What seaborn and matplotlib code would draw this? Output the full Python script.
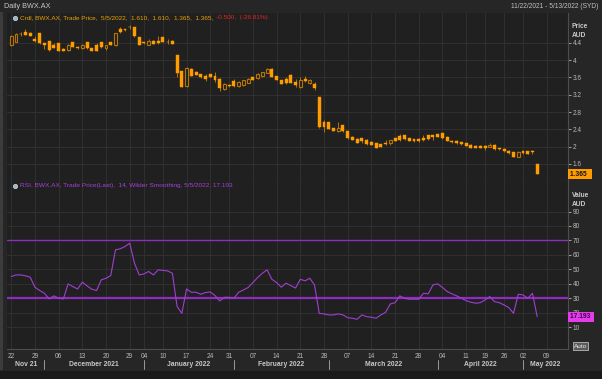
import matplotlib
matplotlib.use("Agg")
import matplotlib.pyplot as plt
import numpy as np
import pandas as pd
import seaborn as sns
from matplotlib.patches import Rectangle
from matplotlib.ticker import FormatStrFormatter

# ASX trading calendar for the window shown (11/22/2021 - 5/13/2022)
HOLIDAYS = ["2021-12-27", "2021-12-28", "2022-01-03", "2022-01-26",
            "2022-04-15", "2022-04-18", "2022-04-25"]
trade_days = pd.bdate_range("2021-11-22", "2022-05-13", freq="C", holidays=HOLIDAYS)

month_labels = ["Nov 21", "December 2021", "January 2022", "February 2022",
                "March 2022", "April 2022", "May 2022"]

# daily candles, BWX.AX
opens = [4.35, 4.43, 4.61, 4.65, 4.62, 4.50, 4.62, 4.39, 4.44, 4.35,
         4.39, 4.26, 4.24, 4.42, 4.31, 4.28, 4.42, 4.28, 4.35, 4.42,
         4.28, 4.42, 4.35, 4.72, 4.71, 4.77, 4.76, 4.53, 4.41, 4.35,
         4.45, 4.45, 4.53, 4.43, 4.45, 4.12, 3.74, 3.41, 3.80, 3.73,
         3.68, 3.63, 3.68, 3.63, 3.57, 3.33, 3.43, 3.52, 3.40, 3.42,
         3.48, 3.61, 3.58, 3.63, 3.71, 3.80, 3.63, 3.53, 3.57, 3.66,
         3.50, 3.39, 3.56, 3.46, 3.45, 3.14, 2.58, 2.56, 2.42, 2.35,
         2.49, 2.35, 2.23, 2.18, 2.19, 2.16, 2.10, 2.08, 2.05, 2.09,
         2.08, 2.19, 2.25, 2.27, 2.19, 2.17, 2.18, 2.21, 2.27, 2.27,
         2.29, 2.31, 2.23, 2.14, 2.14, 2.10, 2.08, 2.04, 2.02, 2.02,
         2.02, 2.00, 2.04, 1.96, 1.95, 1.91, 1.87, 1.77, 1.90, 1.89,
         1.89, 1.61]
highs = [4.57, 4.62, 4.65, 4.72, 4.64, 4.56, 4.63, 4.40, 4.45, 4.40,
         4.40, 4.27, 4.37, 4.43, 4.32, 4.37, 4.43, 4.29, 4.40, 4.43,
         4.36, 4.43, 4.63, 4.76, 4.72, 4.81, 4.77, 4.54, 4.42, 4.50,
         4.46, 4.56, 4.54, 4.48, 4.46, 4.13, 3.76, 3.85, 3.81, 3.76,
         3.69, 3.68, 3.69, 3.72, 3.58, 3.46, 3.44, 3.56, 3.51, 3.54,
         3.58, 3.62, 3.70, 3.73, 3.81, 3.81, 3.64, 3.54, 3.61, 3.67,
         3.56, 3.60, 3.63, 3.57, 3.50, 3.15, 2.62, 2.58, 2.43, 2.56,
         2.50, 2.36, 2.25, 2.19, 2.21, 2.17, 2.14, 2.09, 2.06, 2.15,
         2.16, 2.20, 2.29, 2.28, 2.20, 2.18, 2.19, 2.27, 2.28, 2.28,
         2.30, 2.32, 2.24, 2.15, 2.15, 2.11, 2.09, 2.05, 2.03, 2.03,
         2.03, 2.08, 2.05, 1.97, 1.96, 1.92, 1.88, 1.89, 1.91, 1.90,
         1.92, 1.61]
lows = [4.33, 4.42, 4.56, 4.57, 4.55, 4.43, 4.38, 4.25, 4.20, 4.27,
        4.21, 4.21, 4.20, 4.30, 4.26, 4.26, 4.26, 4.20, 4.20, 4.29,
        4.24, 4.34, 4.33, 4.62, 4.68, 4.72, 4.54, 4.34, 4.38, 4.34,
        4.37, 4.38, 4.42, 4.38, 4.37, 3.62, 3.38, 3.39, 3.63, 3.65,
        3.59, 3.52, 3.61, 3.50, 3.28, 3.32, 3.39, 3.39, 3.39, 3.41,
        3.47, 3.53, 3.57, 3.62, 3.70, 3.60, 3.54, 3.44, 3.45, 3.47,
        3.38, 3.36, 3.50, 3.45, 3.32, 2.44, 2.33, 2.40, 2.36, 2.34,
        2.34, 2.18, 2.15, 2.08, 2.08, 2.04, 2.03, 1.97, 1.99, 2.04,
        2.04, 2.12, 2.12, 2.16, 2.12, 2.11, 2.10, 2.13, 2.16, 2.15,
        2.22, 2.18, 2.12, 2.09, 2.07, 2.04, 2.01, 1.97, 1.97, 1.97,
        1.92, 1.99, 1.93, 1.93, 1.87, 1.84, 1.76, 1.76, 1.84, 1.82,
        1.82, 1.365]
closes = [4.55, 4.60, 4.60, 4.58, 4.56, 4.44, 4.39, 4.35, 4.24, 4.28,
          4.22, 4.22, 4.35, 4.31, 4.27, 4.35, 4.27, 4.21, 4.22, 4.31,
          4.34, 4.35, 4.62, 4.64, 4.69, 4.76, 4.55, 4.35, 4.39, 4.45,
          4.38, 4.39, 4.43, 4.42, 4.38, 3.70, 3.39, 3.81, 3.64, 3.66,
          3.60, 3.56, 3.62, 3.54, 3.35, 3.45, 3.40, 3.40, 3.50, 3.53,
          3.57, 3.54, 3.69, 3.72, 3.80, 3.61, 3.55, 3.45, 3.48, 3.48,
          3.42, 3.54, 3.52, 3.54, 3.36, 2.46, 2.45, 2.41, 2.37, 2.42,
          2.35, 2.19, 2.16, 2.09, 2.12, 2.05, 2.04, 1.98, 2.00, 2.05,
          2.15, 2.13, 2.16, 2.17, 2.13, 2.12, 2.13, 2.16, 2.17, 2.23,
          2.23, 2.19, 2.13, 2.10, 2.08, 2.05, 2.02, 1.98, 1.98, 1.98,
          1.96, 2.04, 1.94, 1.94, 1.91, 1.85, 1.77, 1.88, 1.85, 1.83,
          1.88, 1.365]

# RSI(14), Wilder smoothing
rsi = [45.0, 46.1, 46.1, 45.5, 44.5, 37.6, 35.3, 33.4, 29.5, 31.6,
       30.0, 29.5, 39.9, 38.0, 36.4, 41.1, 38.5, 36.2, 35.3, 42.7,
       43.8, 45.7, 63.5, 64.2, 65.8, 68.1, 54.3, 46.1, 46.8, 48.5,
       46.1, 49.6, 49.2, 48.9, 47.3, 24.2, 19.5, 36.4, 34.1, 34.1,
       32.7, 33.9, 34.3, 31.8, 28.1, 30.6, 30.6, 30.0, 34.1, 35.7,
       37.4, 40.8, 44.3, 47.3, 49.6, 43.1, 40.8, 37.6, 40.4, 38.7,
       37.0, 43.1, 42.0, 43.8, 39.2, 19.5, 19.1, 18.4, 18.4, 19.1,
       18.4, 16.5, 16.1, 15.4, 18.4, 17.2, 16.8, 16.1, 18.4, 20.2,
       26.0, 26.9, 31.6, 29.9, 29.3, 29.3, 29.3, 33.4, 33.0, 39.2,
       39.9, 37.4, 34.6, 33.0, 31.6, 29.9, 28.3, 27.2, 26.5, 26.9,
       28.8, 31.1, 27.6, 26.9, 25.3, 23.5, 19.5, 32.7, 32.3, 29.9,
       33.4, 17.193]

FIG_BG = "#262626"
AX_BG = "#202020"
GRID = "#2f2f2f"
TXT = "#b8b8b8"
ORANGE = "#ff9c00"
HOLLOW = "#b87400"
WICK = "#b87400"
PURPLE = "#a13ed2"

sns.set_theme(style="dark", rc={
    "axes.facecolor": AX_BG,
    "figure.facecolor": FIG_BG,
    "axes.edgecolor": "#555555",
    "grid.color": GRID,
    "grid.linewidth": 0.8,
    "xtick.color": TXT,
    "ytick.color": TXT,
})
plt.rcParams["font.family"] = ["Liberation Sans", "DejaVu Sans"]

W, H = 602, 379
fig = plt.figure(figsize=(W / 100, H / 100), dpi=100)


def px_axes(x0, y0, x1, y1):
    return fig.add_axes([x0 / W, 1 - y1 / H, (x1 - x0) / W, (y1 - y0) / H])


ax1 = px_axes(7, 13, 568, 180.5)
ax2 = px_axes(7, 180.5, 568, 349)

n_days = len(trade_days)
xlim = (-0.9, n_days - 0.5)
idx = np.arange(len(closes))
o, h, l, c = map(np.asarray, (opens, highs, lows, closes))
up = c > o

# week starts -> x ticks, month starts -> separators
week_start = [i for i in range(n_days)
              if i == 0 or trade_days[i].isocalendar()[1] != trade_days[i - 1].isocalendar()[1]]
month_start = [i for i in range(1, n_days) if trade_days[i].month != trade_days[i - 1].month]

# ---- price panel ----
ax1.vlines(idx, l, h, color=WICK, lw=0.7, zorder=2)
ax1.bar(idx[~up], (o - c)[~up], bottom=c[~up], width=0.62,
        color=ORANGE, edgecolor=ORANGE, lw=0.3, zorder=3)
ax1.bar(idx[up], (c - o)[up], bottom=o[up], width=0.62,
        facecolor=AX_BG, edgecolor=HOLLOW, lw=0.8, zorder=3)
ax1.set_ylim(1.217, 5.09)
ax1.set_yticks(np.arange(1.6, 4.5, 0.4))
ax1.yaxis.set_major_formatter(FormatStrFormatter("%g"))

# ---- RSI panel ----
ax2.axhline(70, color="#8e2cbf", lw=1.0, zorder=2)
ax2.axhline(30, color="#8e2cbf", lw=1.6, zorder=2)
sns.lineplot(x=idx, y=rsi, ax=ax2, color=PURPLE, lw=0.8, zorder=3)
ax2.set_ylim(-5.2, 111.5)
ax2.set_yticks(range(10, 91, 10))

for ax in (ax1, ax2):
    ax.set_xlim(*xlim)
    ax.set_xticks(week_start)
    ax.grid(True, axis="both")
    ax.yaxis.tick_right()
    ax.tick_params(axis="y", length=2, width=0.6, pad=1.5, labelsize=4.7,
                   colors=TXT, right=True)
    ax.set_xlabel("")
    ax.set_ylabel("")
    for side in ("left", "top"):
        ax.spines[side].set_visible(False)
    for side in ("right", "bottom"):
        ax.spines[side].set_color("#4d4d4d")
        ax.spines[side].set_linewidth(0.8)

ax1.tick_params(axis="x", length=0, labelbottom=False)
ax2.set_xticklabels([trade_days[i].strftime("%d") for i in week_start])
ax2.tick_params(axis="x", length=2, width=0.6, pad=1, labelsize=4.7, colors=TXT)

# month band under the day numbers
xt = ax2.get_xaxis_transform()
bounds = [xlim[0]] + month_start + [xlim[1]]
for k, name in enumerate(month_labels):
    ax2.text((bounds[k] + bounds[k + 1]) / 2, -0.094, name, transform=xt,
             ha="center", va="center", fontsize=4.9, fontweight="bold", color="#c8c8c8")
for m in month_start:
    ax2.plot([m, m], [-0.065, -0.118], transform=xt, color="#9a9a9a",
             lw=0.7, clip_on=False)

# ---- figure chrome ----
fig.patches.append(Rectangle((0, 1 - 370 / H), 3 / W, 358 / H, transform=fig.transFigure,
                             facecolor="#3c3c3c", edgecolor="none"))
fig.patches.append(Rectangle((0, 0), 1, 8 / H, transform=fig.transFigure,
                             facecolor="#1a1a1a", edgecolor="none"))
fig.text(4 / W, 1 - 6 / H, "Daily BWX.AX", fontsize=5.2, color="#c8c8c8", va="center")
fig.text(598 / W, 1 - 6 / H, "11/22/2021 - 5/13/2022 (SYD)", fontsize=4.8,
         color="#c0c0c0", va="center", ha="right")
fig.text(572 / W, 1 - 27 / H, "Price", fontsize=4.8, fontweight="bold", color="#c8c8c8", va="center")
fig.text(572 / W, 1 - 35.5 / H, "AUD", fontsize=4.8, fontweight="bold", color="#c8c8c8", va="center")
fig.text(572 / W, 1 - 195 / H, "Value", fontsize=4.8, fontweight="bold", color="#c8c8c8", va="center")
fig.text(572 / W, 1 - 204 / H, "AUD", fontsize=4.8, fontweight="bold", color="#c8c8c8", va="center")

# legends inside the panels
fig.lines.append(plt.Line2D([15 / W], [1 - 18 / H], transform=fig.transFigure, marker="o",
                            ms=3.2, color="#9fb6c8", mec="#dfe8ee", mew=0.4))
fig.lines.append(plt.Line2D([15 / W], [1 - 186 / H], transform=fig.transFigure, marker="o",
                            ms=3.2, color="#9fb6c8", mec="#dfe8ee", mew=0.4))
t1 = fig.text(19.5 / W, 1 - 18 / H,
              "Crdl, BWX.AX, Trade Price,  5/5/2022,  1.610,  1.610,  1.365,  1.365,  ",
              fontsize=4.55, color="#e8a200", va="center")
fig.canvas.draw()
bb = t1.get_window_extent()
fig.text(bb.x1 / W, 1 - 18 / H, "-0.500,  (-26.81%)", fontsize=4.55, color="#e02525", va="center")
fig.text(19.5 / W, 1 - 186 / H,
         "RSI, BWX.AX, Trade Price(Last),  14, Wilder Smoothing, 5/5/2022, 17.193",
         fontsize=4.65, color="#a63fd8", va="center")

# last-value flags on the right axis (they sit over the nearby tick label, as in Eikon)
yt1 = ax1.get_yaxis_transform()
yt2 = ax2.get_yaxis_transform()
ax1.text(1.003, closes[-1], "1.365  ", transform=yt1, fontsize=4.8, fontweight="bold",
         color="#111111", va="center", ha="left", clip_on=False, zorder=10,
         bbox=dict(boxstyle="square,pad=0.25", fc=ORANGE, ec="none"))
ax2.text(1.003, rsi[-1], "17.193 ", transform=yt2, fontsize=4.8, fontweight="bold",
         color="#3c0048", va="center", ha="left", clip_on=False, zorder=10,
         bbox=dict(boxstyle="square,pad=0.25", fc="#e43ce8", ec="none"))
fig.text(574 / W, 1 - 346 / H, "Auto", fontsize=4.6, color="#e8e8e8", va="center",
         bbox=dict(boxstyle="square,pad=0.2", fc="#5a5a5a", ec="#d0d0d0", lw=0.5))

fig.savefig("out.png", dpi=100, facecolor=FIG_BG)
